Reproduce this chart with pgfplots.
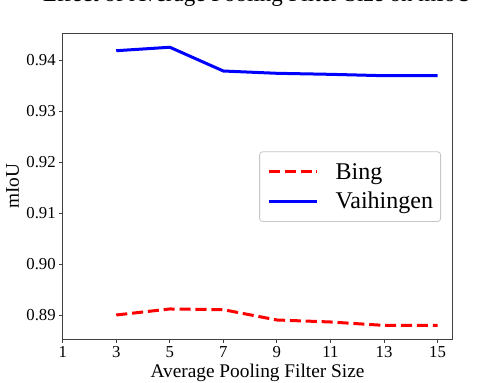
\documentclass[border=0pt]{standalone}
\usepackage{pgfplots}
\pgfplotsset{compat=1.18}
\usepackage{fontspec}
\setmainfont{Liberation Serif}
\newfontfamily\tickfont{Liberation Serif}
\newcommand\tl[1]{{\tickfont #1}}
\begin{document}
\begin{tikzpicture}
\path[use as bounding box] (-62.7bp,-43.7bp) rectangle (440.3bp,339.3bp);
\begin{axis}[
  at={(0,0)}, anchor=south west,
  scale only axis, width=389.6bp, height=306bp,
  xmin=1, xmax=15.55, ymin=0.885294, ymax=0.945294,
  xtick={1,3,5,7,9,11,13,15},
  xticklabels={\tl{1},\tl{3},\tl{5},\tl{7},\tl{9},\tl{11},\tl{13},\tl{15}},
  ytick={0.89,0.90,0.91,0.92,0.93,0.94},
  yticklabels={\tl{0.89},\tl{0.90},\tl{0.91},\tl{0.92},\tl{0.93},\tl{0.94}},
  tick align=outside, major tick length=3.5bp,
  xtick pos=lower, ytick pos=left,
  axis line style={black!75, line width=0.9bp},
  every tick/.style={black!75, line width=0.9bp},
  tick label style={font=\tickfont\fontsize{16.8}{20}\selectfont},
  label style={font=\fontsize{19.4}{23}\selectfont},
  xlabel={Average Pooling Filter Size},
  ylabel={mIoU},
  xlabel style={at={(axis description cs:0.5,0)}, anchor=base, yshift=-38bp},
  ylabel style={at={(axis description cs:-0.11217,0.5)}, anchor=base},
  title={Effect of Average Pooling Filter Size on mIoU},
  title style={at={(axis description cs:0.5,1)}, anchor=base, yshift=25.5bp, font=\fontsize{23.1}{28}\selectfont},
  legend style={at={(0.971,0.614)}, anchor=north east, draw=black!22, line width=0.8bp, rounded corners=3bp, fill=white,
    font=\fontsize{24.1}{29}\selectfont, inner xsep=7.6bp, inner ysep=11.3bp, row sep=11.6bp,
    nodes={inner sep=0bp},
    /tikz/every odd column/.append style={column sep=17.4bp}},
  legend cell align=left,
  legend image code/.code={\draw[#1] (0bp,0bp) -- (48bp,0bp);},
]
\addplot[red, line width=3bp, dash pattern=on 11.1bp off 4.8bp] coordinates {
  (3,0.89006) (5,0.89124) (7,0.89110) (9,0.88908) (11,0.88869) (13,0.88802) (15,0.88802)
};
\addlegendentry{Bing}
\addplot[blue, line width=3bp] coordinates {
  (3,0.94188) (5,0.94256) (7,0.93790) (9,0.93745) (11,0.93725) (13,0.93698) (15,0.93698)
};
\addlegendentry{Vaihingen}
\end{axis}
\end{tikzpicture}
\end{document}
